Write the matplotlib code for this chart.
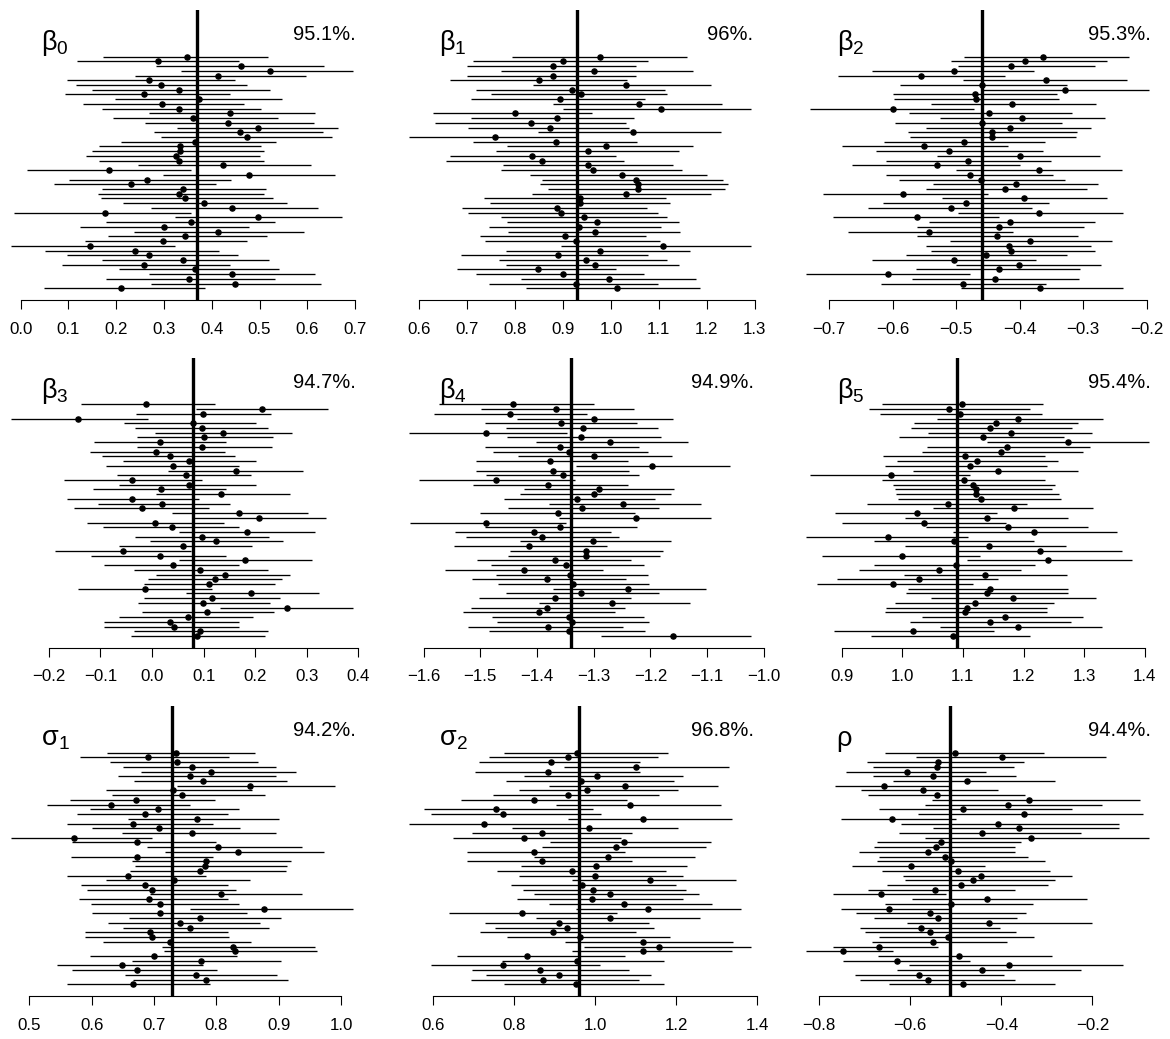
import numpy as np
import matplotlib
matplotlib.use("Agg")
import matplotlib.pyplot as plt

plt.rcParams['font.family'] = ['Liberation Sans', 'DejaVu Sans']
plt.rcParams['axes.unicode_minus'] = True

# ---- estimates and 95% intervals, top row first ----
b0_est = [0.348, 0.287, 0.462, 0.521, 0.413, 0.269, 0.293, 0.331, 0.259, 0.373, 0.295, 0.331, 0.438, 0.360, 0.433, 0.497, 0.459, 0.473, 0.365, 0.333, 0.333, 0.326, 0.331, 0.423, 0.184, 0.478, 0.264, 0.232, 0.340, 0.332, 0.345, 0.383, 0.442, 0.177, 0.497, 0.356, 0.299, 0.412, 0.345, 0.297, 0.146, 0.239, 0.269, 0.339, 0.259, 0.364, 0.442, 0.352, 0.448, 0.211]
b0_lo = [0.172, 0.117, 0.283, 0.335, 0.240, 0.098, 0.116, 0.149, 0.092, 0.197, 0.130, 0.170, 0.269, 0.194, 0.261, 0.328, 0.280, 0.294, 0.210, 0.163, 0.149, 0.137, 0.164, 0.246, 0.014, 0.298, 0.102, 0.070, 0.170, 0.161, 0.168, 0.215, 0.272, -0.014, 0.322, 0.179, 0.124, 0.238, 0.182, 0.134, -0.020, 0.051, 0.098, 0.170, 0.087, 0.205, 0.269, 0.179, 0.273, 0.048]
b0_hi = [0.518, 0.457, 0.635, 0.696, 0.598, 0.448, 0.474, 0.521, 0.438, 0.548, 0.467, 0.504, 0.615, 0.538, 0.614, 0.664, 0.633, 0.651, 0.535, 0.504, 0.509, 0.501, 0.509, 0.607, 0.357, 0.658, 0.441, 0.408, 0.514, 0.509, 0.529, 0.557, 0.623, 0.357, 0.672, 0.532, 0.478, 0.593, 0.516, 0.474, 0.324, 0.415, 0.455, 0.520, 0.439, 0.540, 0.615, 0.532, 0.629, 0.385]

b1_est = [0.977, 0.899, 0.879, 0.965, 0.880, 0.850, 1.031, 0.918, 0.938, 0.894, 1.059, 1.105, 0.800, 0.887, 0.833, 0.873, 1.045, 0.757, 0.886, 0.989, 0.951, 0.836, 0.855, 0.953, 0.963, 1.022, 1.053, 1.057, 1.057, 1.031, 0.936, 0.936, 0.887, 0.895, 0.944, 0.970, 0.933, 0.966, 0.904, 0.926, 1.109, 0.977, 0.890, 0.948, 0.967, 0.847, 0.899, 0.996, 0.926, 1.013]
b1_lo = [0.794, 0.712, 0.699, 0.771, 0.699, 0.663, 0.838, 0.718, 0.750, 0.707, 0.880, 0.899, 0.629, 0.708, 0.633, 0.702, 0.848, 0.578, 0.713, 0.784, 0.759, 0.664, 0.655, 0.775, 0.771, 0.830, 0.857, 0.852, 0.869, 0.835, 0.736, 0.747, 0.690, 0.702, 0.771, 0.782, 0.745, 0.786, 0.727, 0.738, 0.895, 0.781, 0.687, 0.766, 0.780, 0.678, 0.718, 0.812, 0.745, 0.822]
b1_hi = [1.158, 1.077, 1.052, 1.171, 1.052, 1.034, 1.208, 1.113, 1.116, 1.070, 1.231, 1.292, 0.960, 1.048, 1.031, 1.037, 1.230, 0.927, 1.054, 1.171, 1.142, 1.011, 1.028, 1.130, 1.148, 1.200, 1.233, 1.244, 1.238, 1.208, 1.115, 1.123, 1.076, 1.099, 1.116, 1.141, 1.104, 1.143, 1.073, 1.102, 1.292, 1.164, 1.077, 1.116, 1.141, 1.011, 1.068, 1.177, 1.099, 1.186]

b2_est = [-0.363, -0.391, -0.414, -0.504, -0.556, -0.358, -0.460, -0.329, -0.470, -0.468, -0.412, -0.600, -0.448, -0.396, -0.459, -0.415, -0.444, -0.443, -0.487, -0.551, -0.512, -0.399, -0.482, -0.530, -0.370, -0.478, -0.461, -0.406, -0.423, -0.584, -0.393, -0.485, -0.508, -0.369, -0.561, -0.415, -0.432, -0.543, -0.436, -0.383, -0.417, -0.413, -0.453, -0.503, -0.401, -0.432, -0.607, -0.439, -0.490, -0.368]
b2_lo = [-0.488, -0.508, -0.497, -0.632, -0.686, -0.489, -0.589, -0.461, -0.599, -0.598, -0.539, -0.730, -0.574, -0.526, -0.596, -0.547, -0.576, -0.572, -0.614, -0.680, -0.626, -0.531, -0.610, -0.664, -0.500, -0.610, -0.590, -0.537, -0.547, -0.710, -0.523, -0.616, -0.639, -0.497, -0.694, -0.543, -0.561, -0.671, -0.561, -0.509, -0.547, -0.540, -0.579, -0.632, -0.500, -0.564, -0.736, -0.570, -0.619, -0.493]
b2_hi = [-0.227, -0.263, -0.282, -0.377, -0.423, -0.231, -0.325, -0.197, -0.341, -0.338, -0.280, -0.472, -0.317, -0.265, -0.333, -0.287, -0.310, -0.311, -0.360, -0.418, -0.363, -0.273, -0.351, -0.400, -0.238, -0.348, -0.329, -0.277, -0.294, -0.450, -0.262, -0.354, -0.380, -0.237, -0.432, -0.282, -0.299, -0.410, -0.308, -0.255, -0.287, -0.282, -0.325, -0.375, -0.272, -0.305, -0.478, -0.307, -0.358, -0.237]

b3_est = [-0.011, 0.213, 0.099, -0.144, 0.079, 0.096, 0.137, 0.101, 0.015, 0.096, 0.008, 0.034, 0.072, 0.040, 0.163, 0.065, -0.039, 0.071, 0.017, 0.134, -0.038, 0.020, -0.020, 0.169, 0.207, 0.005, 0.039, 0.184, 0.097, 0.124, 0.061, -0.057, 0.015, 0.180, 0.040, 0.094, 0.141, 0.122, 0.110, -0.013, 0.191, 0.116, 0.099, 0.262, 0.106, 0.070, 0.035, 0.042, 0.093, 0.088]
b3_lo = [-0.138, 0.085, -0.031, -0.273, -0.054, -0.033, 0.005, -0.029, -0.113, -0.029, -0.121, -0.096, -0.057, -0.090, 0.031, -0.068, -0.170, -0.064, -0.115, 0.007, -0.165, -0.104, -0.151, 0.038, 0.081, -0.125, -0.094, 0.052, -0.033, -0.004, -0.064, -0.188, -0.118, 0.052, -0.092, -0.035, 0.007, -0.008, -0.016, -0.143, 0.066, -0.015, -0.028, 0.132, -0.020, -0.064, -0.092, -0.092, -0.035, -0.041]
b3_hi = [0.122, 0.342, 0.231, -0.008, 0.202, 0.224, 0.271, 0.234, 0.144, 0.232, 0.142, 0.161, 0.202, 0.169, 0.293, 0.191, 0.096, 0.201, 0.144, 0.267, 0.092, 0.151, 0.111, 0.302, 0.337, 0.139, 0.169, 0.315, 0.226, 0.254, 0.193, 0.075, 0.144, 0.311, 0.169, 0.225, 0.268, 0.252, 0.239, 0.116, 0.323, 0.248, 0.228, 0.390, 0.236, 0.195, 0.169, 0.169, 0.224, 0.219]

b4_est = [-1.443, -1.366, -1.448, -1.299, -1.357, -1.319, -1.490, -1.322, -1.272, -1.360, -1.343, -1.300, -1.377, -1.198, -1.371, -1.354, -1.473, -1.381, -1.290, -1.300, -1.330, -1.249, -1.320, -1.363, -1.226, -1.490, -1.360, -1.406, -1.391, -1.302, -1.414, -1.314, -1.314, -1.369, -1.349, -1.423, -1.341, -1.383, -1.336, -1.239, -1.323, -1.369, -1.267, -1.383, -1.396, -1.344, -1.338, -1.381, -1.344, -1.160]
b4_lo = [-1.572, -1.499, -1.582, -1.435, -1.492, -1.454, -1.626, -1.453, -1.401, -1.492, -1.478, -1.434, -1.507, -1.331, -1.508, -1.490, -1.608, -1.513, -1.423, -1.430, -1.459, -1.378, -1.451, -1.500, -1.362, -1.624, -1.492, -1.544, -1.525, -1.430, -1.547, -1.447, -1.452, -1.506, -1.481, -1.563, -1.472, -1.514, -1.468, -1.372, -1.455, -1.502, -1.396, -1.516, -1.530, -1.479, -1.470, -1.522, -1.484, -1.287]
b4_hi = [-1.300, -1.229, -1.312, -1.161, -1.223, -1.186, -1.347, -1.182, -1.134, -1.220, -1.205, -1.162, -1.239, -1.059, -1.237, -1.220, -1.333, -1.240, -1.158, -1.163, -1.192, -1.111, -1.185, -1.227, -1.094, -1.349, -1.224, -1.270, -1.256, -1.164, -1.276, -1.178, -1.183, -1.235, -1.212, -1.284, -1.204, -1.243, -1.202, -1.103, -1.185, -1.235, -1.130, -1.245, -1.262, -1.212, -1.203, -1.249, -1.210, -1.023]

b5_est = [1.099, 1.077, 1.095, 1.191, 1.154, 1.144, 1.179, 1.133, 1.273, 1.173, 1.163, 1.103, 1.124, 1.111, 1.158, 0.982, 1.102, 1.116, 1.122, 1.121, 1.130, 1.075, 1.184, 1.025, 1.140, 1.036, 1.174, 1.218, 0.977, 1.085, 1.143, 1.227, 1.000, 1.240, 1.088, 1.060, 1.136, 1.027, 0.985, 1.144, 1.139, 1.183, 1.120, 1.106, 1.103, 1.169, 1.145, 1.191, 1.017, 1.083]
b5_lo = [0.966, 0.946, 0.963, 1.058, 1.019, 1.014, 1.043, 0.994, 1.139, 1.041, 1.032, 0.968, 0.991, 0.971, 1.018, 0.848, 0.966, 0.984, 0.988, 0.989, 0.993, 0.942, 1.051, 0.889, 1.005, 0.901, 1.040, 1.083, 0.842, 0.953, 1.005, 1.092, 0.867, 1.107, 0.954, 0.928, 1.003, 0.892, 0.859, 1.009, 1.006, 1.048, 0.988, 0.974, 0.971, 1.033, 1.013, 1.062, 0.887, 0.949]
b5_hi = [1.232, 1.210, 1.230, 1.331, 1.289, 1.280, 1.313, 1.266, 1.406, 1.310, 1.298, 1.235, 1.256, 1.239, 1.289, 1.112, 1.236, 1.252, 1.247, 1.258, 1.261, 1.205, 1.314, 1.157, 1.274, 1.171, 1.306, 1.354, 1.109, 1.218, 1.270, 1.363, 1.129, 1.379, 1.219, 1.195, 1.271, 1.158, 1.116, 1.274, 1.274, 1.320, 1.251, 1.239, 1.238, 1.298, 1.278, 1.329, 1.151, 1.211]

s1_est = [0.735, 0.691, 0.736, 0.760, 0.792, 0.758, 0.778, 0.854, 0.731, 0.745, 0.671, 0.631, 0.707, 0.685, 0.769, 0.667, 0.708, 0.760, 0.571, 0.673, 0.802, 0.834, 0.672, 0.783, 0.781, 0.774, 0.659, 0.732, 0.686, 0.697, 0.808, 0.692, 0.709, 0.876, 0.710, 0.773, 0.741, 0.758, 0.694, 0.696, 0.726, 0.826, 0.830, 0.700, 0.775, 0.649, 0.672, 0.767, 0.784, 0.667]
s1_lo = [0.625, 0.582, 0.630, 0.651, 0.679, 0.643, 0.668, 0.736, 0.623, 0.632, 0.566, 0.528, 0.598, 0.577, 0.658, 0.561, 0.601, 0.649, 0.471, 0.569, 0.689, 0.717, 0.567, 0.665, 0.669, 0.661, 0.560, 0.623, 0.583, 0.592, 0.694, 0.580, 0.599, 0.758, 0.601, 0.660, 0.627, 0.651, 0.589, 0.590, 0.619, 0.712, 0.716, 0.597, 0.664, 0.545, 0.569, 0.654, 0.667, 0.560]
s1_hi = [0.862, 0.820, 0.867, 0.896, 0.928, 0.896, 0.913, 0.990, 0.857, 0.878, 0.798, 0.757, 0.836, 0.819, 0.900, 0.794, 0.837, 0.895, 0.696, 0.799, 0.937, 0.973, 0.795, 0.920, 0.913, 0.911, 0.783, 0.854, 0.818, 0.832, 0.937, 0.819, 0.836, 1.019, 0.849, 0.904, 0.870, 0.884, 0.818, 0.820, 0.855, 0.958, 0.961, 0.833, 0.904, 0.778, 0.801, 0.897, 0.914, 0.790]

s2_est = [0.955, 0.933, 0.891, 1.102, 0.883, 1.005, 0.965, 1.073, 0.981, 0.934, 0.849, 1.087, 0.755, 0.773, 1.118, 0.726, 0.985, 0.870, 0.824, 1.071, 1.051, 0.849, 1.032, 0.868, 1.002, 0.942, 1.000, 1.136, 0.969, 0.996, 1.038, 0.993, 1.072, 1.130, 0.820, 1.036, 0.912, 0.930, 0.897, 0.963, 1.119, 1.158, 1.119, 0.832, 0.956, 0.772, 0.863, 0.912, 0.872, 0.953]
s2_lo = [0.776, 0.739, 0.714, 0.924, 0.704, 0.825, 0.780, 0.887, 0.811, 0.747, 0.669, 0.904, 0.578, 0.594, 0.934, 0.540, 0.796, 0.695, 0.650, 0.890, 0.870, 0.685, 0.849, 0.685, 0.817, 0.759, 0.813, 0.943, 0.792, 0.821, 0.849, 0.808, 0.886, 0.952, 0.640, 0.854, 0.728, 0.754, 0.716, 0.783, 0.926, 0.973, 0.943, 0.659, 0.769, 0.595, 0.695, 0.731, 0.693, 0.775]
s2_hi = [1.180, 1.156, 1.110, 1.332, 1.110, 1.218, 1.194, 1.304, 1.205, 1.159, 1.080, 1.310, 0.995, 1.014, 1.339, 0.963, 1.205, 1.092, 1.064, 1.287, 1.273, 1.073, 1.248, 1.092, 1.226, 1.175, 1.218, 1.347, 1.200, 1.224, 1.257, 1.218, 1.289, 1.360, 1.054, 1.260, 1.133, 1.145, 1.101, 1.185, 1.341, 1.385, 1.339, 1.074, 1.170, 1.013, 1.085, 1.138, 1.109, 1.171]

rho_est = [-0.501, -0.398, -0.540, -0.542, -0.607, -0.551, -0.475, -0.658, -0.573, -0.541, -0.340, -0.385, -0.485, -0.350, -0.640, -0.407, -0.361, -0.442, -0.336, -0.533, -0.543, -0.561, -0.523, -0.510, -0.599, -0.496, -0.445, -0.463, -0.488, -0.545, -0.664, -0.432, -0.510, -0.646, -0.556, -0.539, -0.428, -0.576, -0.556, -0.517, -0.551, -0.669, -0.747, -0.494, -0.628, -0.384, -0.442, -0.580, -0.561, -0.485]
rho_lo = [-0.656, -0.588, -0.695, -0.681, -0.740, -0.681, -0.638, -0.766, -0.708, -0.692, -0.553, -0.567, -0.669, -0.583, -0.753, -0.621, -0.551, -0.625, -0.567, -0.674, -0.680, -0.712, -0.668, -0.674, -0.728, -0.662, -0.616, -0.611, -0.651, -0.692, -0.769, -0.597, -0.656, -0.753, -0.720, -0.679, -0.607, -0.711, -0.700, -0.669, -0.684, -0.769, -0.828, -0.671, -0.747, -0.603, -0.629, -0.721, -0.711, -0.646]
rho_hi = [-0.306, -0.171, -0.350, -0.372, -0.433, -0.367, -0.283, -0.515, -0.408, -0.349, -0.096, -0.179, -0.245, -0.090, -0.499, -0.141, -0.141, -0.226, -0.077, -0.358, -0.371, -0.371, -0.341, -0.305, -0.436, -0.294, -0.245, -0.283, -0.297, -0.369, -0.522, -0.212, -0.330, -0.512, -0.347, -0.365, -0.201, -0.402, -0.368, -0.329, -0.387, -0.538, -0.638, -0.289, -0.468, -0.133, -0.225, -0.395, -0.370, -0.283]

names = [r'$\mathregular{β_0}$', r'$\mathregular{β_1}$', r'$\mathregular{β_2}$',
         r'$\mathregular{β_3}$', r'$\mathregular{β_4}$', r'$\mathregular{β_5}$',
         r'$\mathregular{σ_1}$', r'$\mathregular{σ_2}$', 'ρ']
coverage = ['95.1%.', '96%.', '95.3%.', '94.7%.', '94.9%.', '95.4%.', '94.2%.', '96.8%.', '94.4%.']
true_vals = [0.37, 0.93, -0.46, 0.08, -1.34, 1.09, 0.728, 0.96, -0.513]
ticks = [
    [0.0, 0.1, 0.2, 0.3, 0.4, 0.5, 0.6, 0.7],
    [0.6, 0.7, 0.8, 0.9, 1.0, 1.1, 1.2, 1.3],
    [-0.7, -0.6, -0.5, -0.4, -0.3, -0.2],
    [-0.2, -0.1, 0.0, 0.1, 0.2, 0.3, 0.4],
    [-1.6, -1.5, -1.4, -1.3, -1.2, -1.1, -1.0],
    [0.9, 1.0, 1.1, 1.2, 1.3, 1.4],
    [0.5, 0.6, 0.7, 0.8, 0.9, 1.0],
    [0.6, 0.8, 1.0, 1.2, 1.4],
    [-0.8, -0.6, -0.4, -0.2],
]
ests = [b0_est, b1_est, b2_est, b3_est, b4_est, b5_est, s1_est, s2_est, rho_est]
los = [b0_lo, b1_lo, b2_lo, b3_lo, b4_lo, b5_lo, s1_lo, s2_lo, rho_lo]
his = [b0_hi, b1_hi, b2_hi, b3_hi, b4_hi, b5_hi, s1_hi, s2_hi, rho_hi]

W, H = 1170, 1039
fig = plt.figure(figsize=(W / 100, H / 100), dpi=100)

# plot regions in pixels
lefts = [-2.6, 395.1, 792.7]
tops = [10, 357.7, 706]
pw, ph = 369.5, 290

for k in range(9):
    r, c = divmod(k, 3)
    ax = fig.add_axes([lefts[c] / W, 1 - (tops[r] + ph) / H, pw / W, ph / H])
    est = np.array(ests[k])
    lo = np.array(los[k])
    hi = np.array(his[k])
    n = len(est)
    ypos = np.arange(n, 0, -1)

    ax.hlines(ypos, lo, hi, color='black', lw=0.95, zorder=1)
    ax.axvline(true_vals[k], color='black', lw=2.4, zorder=2)
    ax.plot(est, ypos, 'o', color='black', ms=3.7, zorder=3)

    # R-style 4% padding
    xmin, xmax = lo.min(), hi.max()
    pad = 0.04 * (xmax - xmin)
    ax.set_xlim(xmin - pad, xmax + pad)
    ax.set_ylim(1 - 2.47, n + 9.87)

    for s in ['top', 'left', 'right']:
        ax.spines[s].set_visible(False)
    ax.spines['bottom'].set_bounds(ticks[k][0], ticks[k][-1])
    ax.spines['bottom'].set_linewidth(0.8)
    ax.set_xticks(ticks[k])
    ax.set_xticklabels([f"{t:.1f}".replace('-', '\u2212') for t in ticks[k]])
    ax.set_yticks([])
    ax.tick_params(axis='x', length=6.5, width=0.8, pad=9, labelsize=12.2)
    ax.patch.set_visible(False)

    ax.text(44 / pw, 1 - 33 / ph, names[k], transform=ax.transAxes,
            ha='left', va='center', fontsize=19.5)
    ax.text(1 - 11 / pw, 1 - 25 / ph, coverage[k], transform=ax.transAxes,
            ha='right', va='center', fontsize=14.5)

fig.savefig('out.png', dpi=100)
